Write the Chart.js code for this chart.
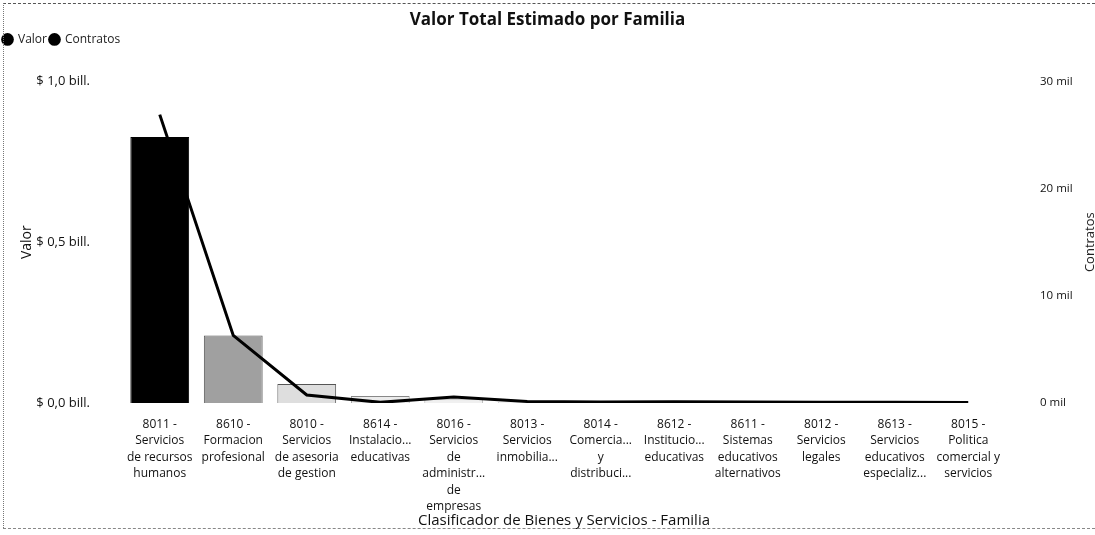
<!DOCTYPE html>
<html>
<head>
<meta charset="utf-8">
<script src="https://cdn.jsdelivr.net/npm/chart.js@4/dist/chart.umd.min.js"></script>
<style>
  html, body { margin: 0; padding: 0; background: #fff; }
  #wrap { position: relative; width: 1095px; height: 535px; }
  #frameTop { position: absolute; left: 3px; right: 0; top: 3px; border-top: 1px dashed #555; }
  #frameBottom { position: absolute; left: 3px; right: 0; top: 528px; border-top: 1px dashed #888; }
  #frameLeft { position: absolute; left: 3px; top: 3px; height: 525px; border-left: 1px dotted #777; }
</style>
</head>
<body>
<div id="wrap">
  <canvas id="c"></canvas>
  <div id="frameTop"></div>
  <div id="frameBottom"></div>
  <div id="frameLeft"></div>
</div>
<script>
// ---- Data ----
const categories = [
  ["8011 -", "Servicios", "de recursos", "humanos"],
  ["8610 -", "Formacion", "profesional"],
  ["8010 -", "Servicios", "de asesoria", "de gestion"],
  ["8614 -", "Instalacio...", "educativas"],
  ["8016 -", "Servicios", "de", "administr...", "de", "empresas"],
  ["8013 -", "Servicios", "inmobilia..."],
  ["8014 -", "Comercia...", "y", "distribuci..."],
  ["8612 -", "Institucio...", "educativas"],
  ["8611 -", "Sistemas", "educativos", "alternativos"],
  ["8012 -", "Servicios", "legales"],
  ["8613 -", "Servicios", "educativos", "especializ..."],
  ["8015 -", "Politica", "comercial y", "servicios"]
];
// Valor (billones de pesos)
const valorBill = [0.827, 0.210, 0.059, 0.022, 0.012, 0.004, 0.004, 0.003, 0.003, 0.002, 0.002, 0.001];
// Contratos (número)
const contratos = [26900, 6300, 750, 60, 550, 150, 100, 120, 100, 80, 60, 50];
const barColors = ["#000000", "#a0a0a0", "#dedede", "#ececec", "#f0f0f0", "#f3f3f3", "#f3f3f3", "#f3f3f3", "#f3f3f3", "#f3f3f3", "#f3f3f3", "#f3f3f3"];
const barBorders = ["#000000", "#555555", "#555555", "#888888", "#aaaaaa", "#cccccc", "#cccccc", "#cccccc", "#cccccc", "#cccccc", "#cccccc", "#cccccc"];
const valorTicks = [0, 0.5, 1.0];
const contratosTicks = [0, 10000, 20000, 30000];

const FONT = "'Open Sans', 'Noto Sans', sans-serif";

const legendMargin = {
  id: 'legendMargin',
  beforeInit(chart) {
    const fit = chart.legend.fit;
    chart.legend.fit = function () {
      fit.bind(chart.legend)();
      this.height += 26;
    };
  }
};

const rightTitle = {
  id: 'rightTitle',
  afterDraw(chart) {
    const ctx = chart.ctx;
    const a = chart.chartArea;
    ctx.save();
    ctx.translate(1090, (a.top + a.bottom) / 2);
    ctx.rotate(-Math.PI / 2);
    ctx.font = "13px " + FONT;
    ctx.fillStyle = "#222";
    ctx.textAlign = "center";
    ctx.textBaseline = "middle";
    ctx.fillText("Contratos", 0, 0);
    ctx.restore();
  }
};

new Chart(document.getElementById('c'), {
  data: {
    labels: categories,
    datasets: [
      {
        type: 'bar',
        label: 'Valor',
        data: valorBill,
        backgroundColor: barColors,
        borderColor: barBorders,
        borderWidth: 1,
        barPercentage: 1.0,
        categoryPercentage: 0.8,
        yAxisID: 'y',
        order: 2
      },
      {
        type: 'line',
        label: 'Contratos',
        data: contratos,
        borderColor: '#000',
        backgroundColor: '#000',
        borderWidth: 3,
        pointRadius: 0,
        tension: 0,
        yAxisID: 'y1',
        order: 1
      }
    ]
  },
  options: {
    responsive: true,
    maintainAspectRatio: false,
    animation: false,
    layout: { padding: { left: 0, right: 0, top: 4, bottom: 5 } },
    plugins: {
      title: {
        display: true,
        text: 'Valor Total Estimado por Familia',
        color: '#111',
        font: { family: FONT, size: 17, weight: 'bold' },
        padding: { top: 6, bottom: 0 }
      },
      legend: {
        display: true,
        align: 'start',
        labels: {
          usePointStyle: true,
          pointStyle: 'circle',
          boxWidth: 9,
          boxHeight: 9,
          padding: 3,
          color: '#222',
          font: { family: FONT, size: 12 },
          generateLabels(chart) {
            return chart.data.datasets.map((ds, i) => ({
              text: ds.label,
              fillStyle: '#000',
              strokeStyle: '#000',
              lineWidth: 0,
              pointStyle: 'circle',
              hidden: false,
              datasetIndex: i,
              fontColor: '#222'
            }));
          }
        }
      },
      tooltip: { enabled: false }
    },
    scales: {
      x: {
        grid: { display: false, drawTicks: false },
        border: { display: false },
        afterFit(scale) { scale.height = 127; },
        ticks: {
          autoSkip: false,
          maxRotation: 0,
          minRotation: 0,
          padding: 13,
          color: '#111',
          font: { family: FONT, size: 12, lineHeight: 1.375 }
        },
        title: {
          display: true,
          text: 'Clasificador de Bienes y Servicios - Familia',
          color: '#111',
          font: { family: FONT, size: 15 },
          padding: { top: 0, bottom: 0 }
        }
      },
      y: {
        position: 'left',
        min: 0,
        max: 1.0,
        grid: { display: false, drawTicks: false },
        border: { display: false },
        afterFit(scale) { scale.width = 123; },
        afterBuildTicks(axis) { axis.ticks = valorTicks.map(v => ({ value: v })); },
        ticks: {
          padding: 33,
          color: '#111',
          font: { family: FONT, size: 13 },
          callback: v => '$ ' + Number(v).toFixed(1).replace('.', ',') + ' bill.'
        },
        title: {
          display: true,
          text: 'Valor',
          color: '#111',
          font: { family: FONT, size: 14 },
          padding: { top: 19, bottom: 0 }
        }
      },
      y1: {
        position: 'right',
        min: 0,
        max: 30000,
        grid: { display: false, drawTicks: false },
        border: { display: false },
        afterFit(scale) { scale.width = 90; },
        afterBuildTicks(axis) { axis.ticks = contratosTicks.map(v => ({ value: v })); },
        ticks: {
          padding: 35,
          color: '#111',
          font: { family: FONT, size: 11.5 },
          callback: v => (v / 1000) + ' mil'
        }
      }
    }
  },
  plugins: [legendMargin, rightTitle]
});
</script>
</body>
</html>
